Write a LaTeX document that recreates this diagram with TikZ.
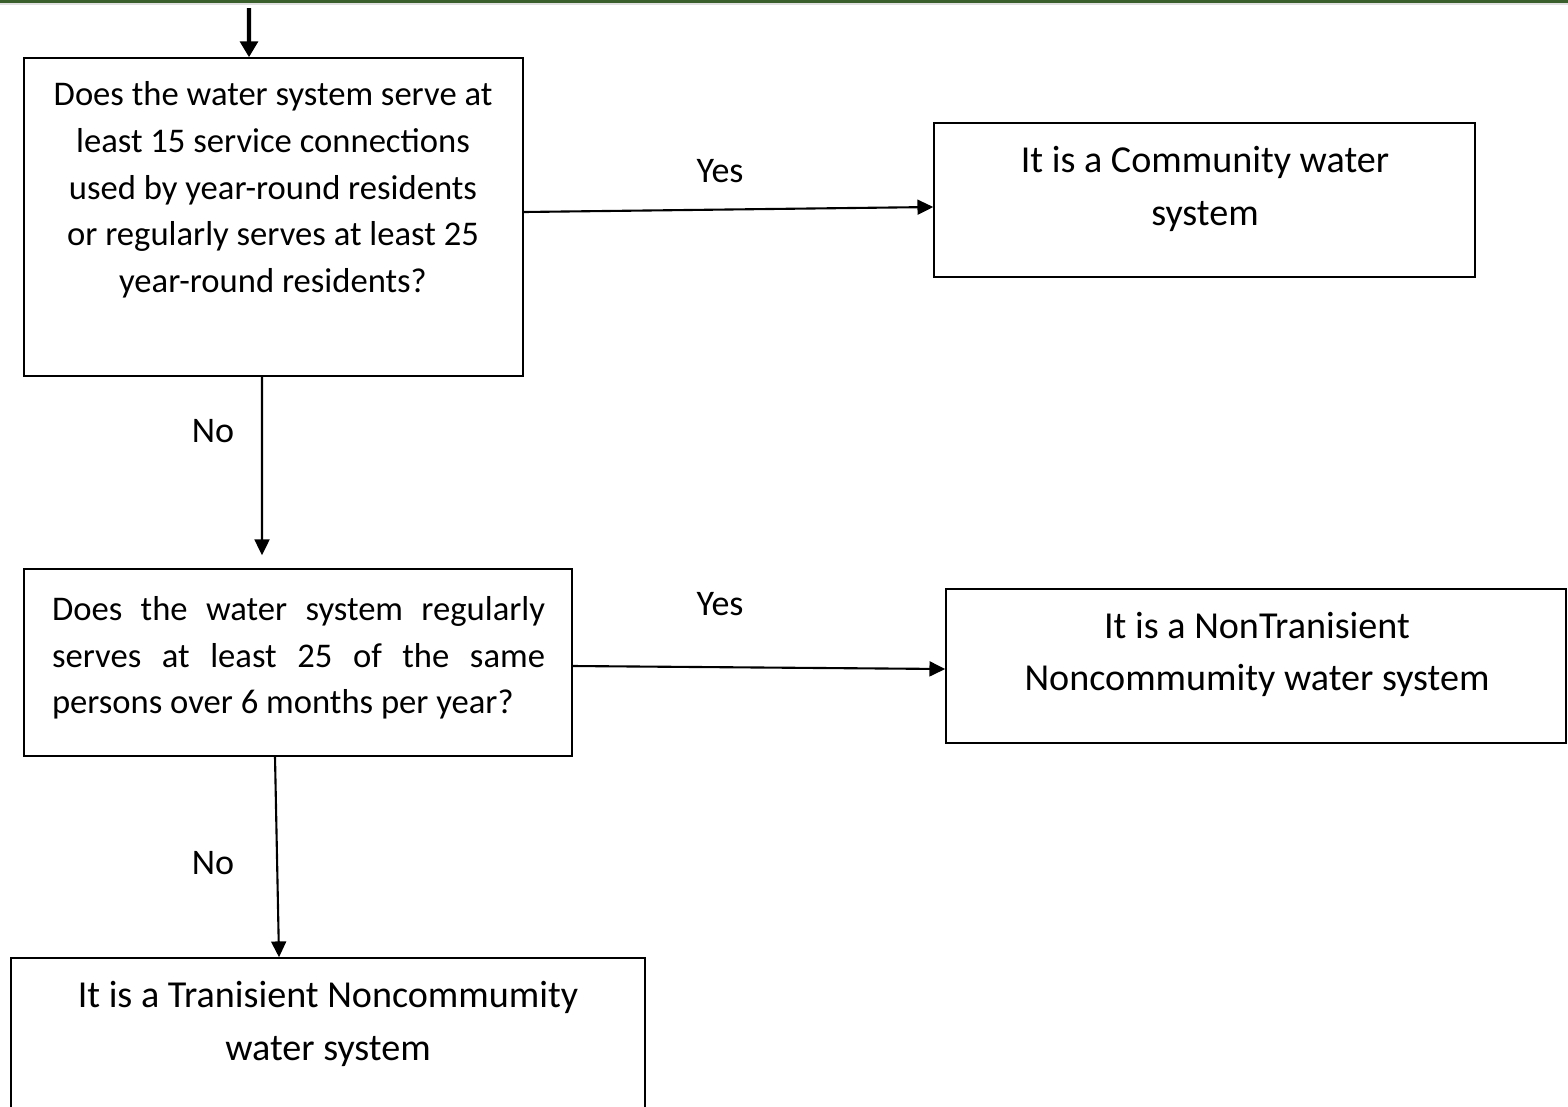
\documentclass[tikz,border=0pt]{standalone}
\usepackage{fontspec}
\setmainfont{Carlito}
\usepackage{tikz}
\usetikzlibrary{arrows.meta,positioning,calc}

\definecolor{bargreen}{RGB}{58,94,44}

\begin{document}
\begin{tikzpicture}[x=0.02cm, y=-0.02cm,
    box/.style={draw, line width=0.9pt, rectangle, inner sep=0pt},
    qtext/.style={font=\fontsize{19.7}{26.6}\selectfont, inner sep=0pt},
    rtext/.style={font=\fontsize{21.7}{30}\selectfont, inner sep=0pt, align=center},
    lbl/.style={font=\fontsize{20.5}{24}\selectfont, inner sep=0pt},
    flow/.style={line width=1.2pt, -{Triangle[length=9pt, width=8.5pt]}}]
    \useasboundingbox (0,0) rectangle (1568,1106);
    \fill[bargreen] (0,0) rectangle (1568,3);
    \fill[black!12] (0,3) rectangle (1568,5);

    % questions
    \node[box, minimum width=9.98cm, minimum height=6.36cm] (q1) at (273.5,217) {};
    \node[qtext, align=center] (q1t) at (273,190) {Does the water system serve at\\ least 15 service connections\\ used by year-round residents\\ or regularly serves at least 25\\ year-round residents?};

    \node[box, minimum width=10.96cm, minimum height=3.74cm] (q2) at (298,662.5) {};
    \node[qtext, align=justify, text width=9.86cm] (q2t) at (298.5,658) {Does the water system regularly\linebreak serves at least 25 of the same\linebreak persons over 6 months per year?};

    % results
    \node[box, minimum width=10.82cm, minimum height=3.08cm] (r1) at (1204.5,200) {};
    \node[rtext] (r1t) at (1205,189) {It is a Community water\\ system};

    \node[box, minimum width=12.4cm, minimum height=3.08cm] (r2) at (1256,666) {};
    \node[rtext] (r2t) at (1257,654.5) {It is a NonTranisient\\ Noncommumity water system};

    \node[box, minimum width=12.68cm, minimum height=3.64cm] (r3) at (328,1049) {};
    \node[rtext] (r3t) at (328,1024) {It is a Tranisient Noncommumity\\ water system};

    % connectors
    \coordinate (start) at (249,8);
    \draw[line width=2.3pt, -{Triangle[length=9pt, width=10pt]}] (start) -- ([xshift=-0.49cm]q1.north);
    \draw[flow] ([yshift=0.1cm]q1.east) -- ([yshift=-0.14cm]r1.west);
    \draw[flow, shorten >=0.26cm] ([xshift=-0.23cm]q1.south) -- ([xshift=-0.72cm]q2.north);
    \draw[flow] ([yshift=-0.07cm]q2.east) -- ([yshift=-0.06cm]r2.west);
    \draw[flow] ([xshift=-0.46cm]q2.south) -- ([xshift=-0.98cm]r3.north);

    \node[lbl] (yes1) at (720,171) {Yes};
    \node[lbl] (no1) at (213,431) {No};
    \node[lbl] (yes2) at (720,604) {Yes};
    \node[lbl] (no2) at (213,863) {No};
  \end{tikzpicture}
\end{document}
